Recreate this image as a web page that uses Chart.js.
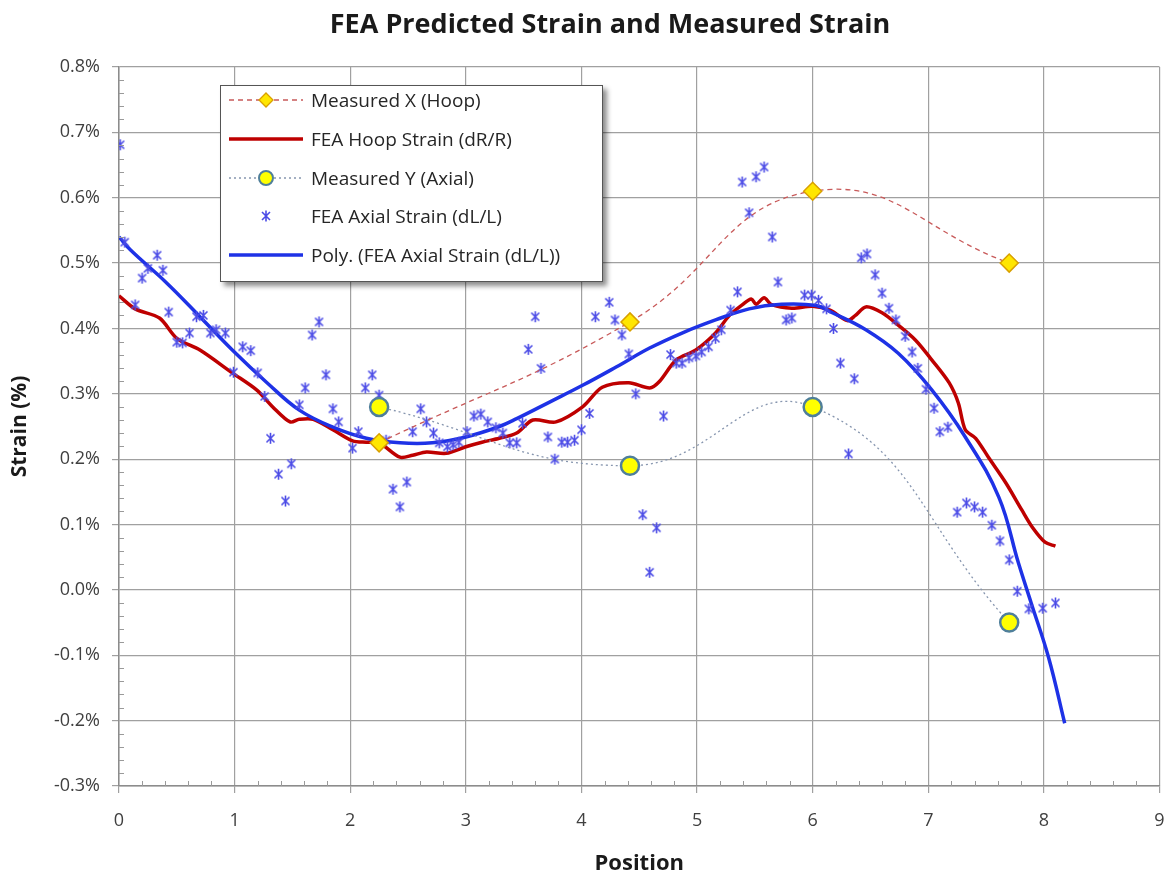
<!DOCTYPE html>
<html lang="en">
    <head>
        <title> FEA Predicted Strain and Measured Strain </title>
        <script src="https://cdn.jsdelivr.net/npm/chart.js@4.4.1/dist/chart.umd.min.js"></script>
        <style>
            body { margin: 0; background: #fff; }
            #wrap { position: relative; width: 1171px; height: 875px; }
            #title {
                position: absolute; left: 0; top: 4px; width: 1220px; text-align: center;
                font-family: "Open Sans", sans-serif; font-size: 27px; font-weight: bold; color: #1a1a1a;
            }
            #legend {
                position: absolute; left: 220px; top: 85px; width: 381px; height: 195px;
                background: #fff; border: 1.5px solid #555;
                box-shadow: 4px 4px 5px rgba(0,0,0,0.45);
                font-family: "Open Sans", sans-serif; font-size: 19px; color: #262626;
            }
            .row { position: absolute; left: 0; height: 30px; display: flex; align-items: center; white-space: nowrap; }
            .row svg { margin-left: 6px; margin-right: 6px; }
        </style>
    </head>
    <body>
        <div id="wrap">
            <canvas id="myChart" width="1171" height="875"></canvas>
            <div id="title">FEA Predicted Strain and Measured Strain</div>
            <div id="legend"></div>
        </div>
        <script>

            // measured points
            const measuredPos = [2.25, 4.42, 6.0, 7.7];
            const measuredHoop = [0.225, 0.41, 0.61, 0.5];
            const measuredAxial = [0.28, 0.19, 0.28, -0.05];

            // FEA hoop strain (red line)
            const hoopPos = [0, 0.14, 0.35, 0.5, 0.7, 0.98, 1.19, 1.33, 1.48, 1.56, 1.68, 1.85, 2.02, 2.14, 2.25, 2.43, 2.54, 2.66, 2.83, 3.0,
                3.14, 3.29, 3.44, 3.58, 3.78, 4.01, 4.18, 4.41, 4.59, 4.67, 4.82, 4.99, 5.16, 5.28, 5.39, 5.47, 5.51, 5.58, 5.64, 5.82,
                6.0, 6.15, 6.3, 6.37, 6.46, 6.6, 6.74, 6.89, 7.03, 7.18, 7.26, 7.32, 7.41, 7.52, 7.67, 7.81, 7.9, 8.01, 8.1];
            const hoopStrain = [0.45, 0.43, 0.416, 0.385, 0.367, 0.332, 0.306, 0.28, 0.257, 0.261, 0.261, 0.245, 0.228, 0.226, 0.225, 0.203, 0.206, 0.211, 0.209, 0.219,
                0.226, 0.232, 0.24, 0.26, 0.257, 0.28, 0.31, 0.317, 0.309, 0.318, 0.352, 0.367, 0.393, 0.42, 0.436, 0.445, 0.437, 0.447, 0.437, 0.431,
                0.434, 0.428, 0.412, 0.42, 0.433, 0.424, 0.405, 0.382, 0.352, 0.317, 0.286, 0.245, 0.232, 0.203, 0.164, 0.122, 0.096, 0.073, 0.067];

            // FEA axial strain (scatter)
            const axialPos = [0.01, 0.05, 0.14, 0.2, 0.25, 0.33, 0.38, 0.43, 0.5, 0.55, 0.61, 0.67, 0.73, 0.79, 0.84, 0.92, 0.99, 1.07, 1.14, 1.2,
                1.26, 1.31, 1.38, 1.44, 1.49, 1.56, 1.61, 1.67, 1.73, 1.79, 1.85, 1.9, 2.02, 2.07, 2.13, 2.19, 2.25, 2.31, 2.37, 2.43,
                2.49, 2.54, 2.61, 2.66, 2.72, 2.77, 2.84, 2.89, 2.94, 3.01, 3.07, 3.13, 3.19, 3.26, 3.32, 3.38, 3.44, 3.49, 3.54, 3.6,
                3.65, 3.71, 3.77, 3.83, 3.88, 3.94, 4.0, 4.07, 4.12, 4.24, 4.29, 4.35, 4.41, 4.47, 4.53, 4.59, 4.65, 4.71, 4.77, 4.82,
                4.87, 4.93, 4.99, 5.04, 5.1, 5.16, 5.21, 5.29, 5.35, 5.39, 5.45, 5.51, 5.58, 5.65, 5.7, 5.77, 5.82, 5.93, 5.99, 6.05,
                6.12, 6.18, 6.24, 6.31, 6.36, 6.42, 6.47, 6.54, 6.6, 6.66, 6.72, 6.8, 6.86, 6.91, 6.98, 7.05, 7.1, 7.17, 7.25, 7.33,
                7.4, 7.47, 7.55, 7.62, 7.7, 7.77, 7.87, 7.99, 8.1];
            const axialStrain = [0.681, 0.532, 0.436, 0.477, 0.492, 0.512, 0.489, 0.425, 0.379, 0.378, 0.393, 0.418, 0.42, 0.393, 0.398, 0.393, 0.333, 0.372, 0.366, 0.332,
                0.296, 0.232, 0.177, 0.136, 0.193, 0.283, 0.309, 0.39, 0.41, 0.329, 0.277, 0.257, 0.217, 0.242, 0.309, 0.329, 0.298, 0.229, 0.154, 0.127,
                0.165, 0.242, 0.277, 0.257, 0.24, 0.225, 0.219, 0.222, 0.226, 0.242, 0.266, 0.269, 0.257, 0.248, 0.24, 0.225, 0.225, 0.255, 0.368, 0.418,
                0.339, 0.234, 0.2, 0.226, 0.226, 0.229, 0.245, 0.27, 0.418, 0.44, 0.413, 0.39, 0.361, 0.3, 0.115, 0.027, 0.095, 0.266, 0.36, 0.347,
                0.347, 0.355, 0.358, 0.364, 0.372, 0.385, 0.398, 0.428, 0.456, 0.624, 0.577, 0.632, 0.647, 0.54, 0.471, 0.413, 0.416, 0.451, 0.451, 0.443,
                0.43, 0.4, 0.347, 0.208, 0.323, 0.508, 0.514, 0.482, 0.454, 0.431, 0.413, 0.388, 0.364, 0.339, 0.307, 0.278, 0.242, 0.249, 0.119, 0.133,
                0.127, 0.119, 0.099, 0.075, 0.046, -0.002, -0.029, -0.028, -0.02];

            // polynomial trend of the axial strain (blue line)
            const polyPos = [0, 0.1, 0.41, 0.7, 0.98, 1.28, 1.56, 1.85, 2.14, 2.43, 2.71, 3.0, 3.29, 3.44, 3.72, 4.01, 4.3, 4.59, 4.87, 5.16,
                5.45, 5.73, 6.03, 6.17, 6.46, 6.74, 7.03, 7.32, 7.61, 7.78, 7.89, 8.04, 8.18];
            const polyStrain = [0.54, 0.52, 0.47, 0.418, 0.367, 0.317, 0.275, 0.249, 0.232, 0.225, 0.225, 0.234, 0.25, 0.262, 0.287, 0.313, 0.341, 0.37, 0.393, 0.413,
                0.43, 0.437, 0.435, 0.424, 0.398, 0.362, 0.306, 0.234, 0.142, 0.041, -0.02, -0.103, -0.204];

            const xTicks = [0, 1, 2, 3, 4, 5, 6, 7, 8, 9];
            const yTicks = [-0.3, -0.2, -0.1, 0.0, 0.1, 0.2, 0.3, 0.4, 0.5, 0.6, 0.7, 0.8];

            const toPoints = (xs, ys) => xs.map((x, i) => ({ x: x, y: ys[i] }));

            // star marker like the spreadsheet one
            const star = document.createElement('canvas');
            star.width = 13; star.height = 13;
            const sc = star.getContext('2d');
            sc.strokeStyle = 'rgb(75,75,230)';
            sc.lineWidth = 1.6;
            sc.beginPath();
            sc.moveTo(2.5, 2.5); sc.lineTo(10.5, 10.5);
            sc.moveTo(10.5, 2.5); sc.lineTo(2.5, 10.5);
            sc.moveTo(6.5, 1); sc.lineTo(6.5, 12);
            sc.stroke();

            const FONT = '"Open Sans", sans-serif';

            const minorTicks = {
                id: 'minorTicks',
                afterDraw (chart) {
                    const ctx = chart.ctx;
                    const xs = chart.scales.x, ys = chart.scales.y;
                    ctx.save();
                    ctx.strokeStyle = '#9a9a9a';
                    ctx.lineWidth = 1;
                    ctx.beginPath();
                    for (let i = 0; i < xTicks.length - 1; i++) {
                        for (let k = 1; k < 5; k++) {
                            const px = Math.round(xs.getPixelForValue(xTicks[i] + k * 0.2)) + 0.5;
                            ctx.moveTo(px, ys.bottom);
                            ctx.lineTo(px, ys.bottom - 5);
                        }
                    }
                    for (let i = 0; i < yTicks.length - 1; i++) {
                        for (let k = 1; k < 5; k++) {
                            const py = Math.round(ys.getPixelForValue(yTicks[i] + k * 0.02)) + 0.5;
                            ctx.moveTo(xs.left, py);
                            ctx.lineTo(xs.left + 5, py);
                        }
                    }
                    ctx.stroke();
                    ctx.restore();
                }
            };

            const datasets = [
                {
                    label: 'Measured X (Hoop)',
                    data: toPoints(measuredPos, measuredHoop),
                    showLine: true, tension: 0.45,
                    borderColor: 'rgb(200,90,90)', borderWidth: 1.3, borderDash: [5, 4],
                    pointStyle: 'rectRot', pointRadius: 9, pointBorderWidth: 1.5,
                    pointBackgroundColor: '#FFE600', pointBorderColor: '#D9A000',
                    order: 1
                },
                {
                    label: 'FEA Hoop Strain (dR/R)',
                    data: toPoints(hoopPos, hoopStrain),
                    showLine: true, tension: 0.3,
                    borderColor: 'rgb(190,0,0)', borderWidth: 3.5,
                    pointRadius: 0,
                    order: 5
                },
                {
                    label: 'Measured Y (Axial)',
                    data: toPoints(measuredPos, measuredAxial),
                    showLine: true, tension: 0.45,
                    borderColor: 'rgb(135,150,175)', borderWidth: 1.3, borderDash: [2, 3],
                    pointStyle: 'circle', pointRadius: 9, pointBorderWidth: 2.5,
                    pointBackgroundColor: '#FFFF00', pointBorderColor: '#4F7F9A',
                    order: 2
                },
                {
                    label: 'FEA Axial Strain (dL/L)',
                    data: toPoints(axialPos, axialStrain),
                    showLine: false,
                    pointStyle: star, pointRadius: 6,
                    order: 3
                },
                {
                    label: 'Poly. (FEA Axial Strain (dL/L))',
                    data: toPoints(polyPos, polyStrain),
                    showLine: true, tension: 0.4,
                    borderColor: 'rgb(30,50,230)', borderWidth: 3.5,
                    pointRadius: 0,
                    order: 4
                }
            ];

            const chartContext = document.getElementById('myChart').getContext('2d');
            const strainChart = new Chart(chartContext, {
                type: 'scatter',
                data: { datasets: datasets },
                options: {
                    responsive: false,
                    animation: false,
                    layout: { padding: { top: 67, left: 0, right: 10, bottom: 0 } },
                    plugins: {
                        legend: { display: false },
                        tooltip: { enabled: false },
                        title: { display: false }
                    },
                    scales: {
                        x: {
                            type: 'linear', min: 0, max: 9,
                            afterFit: (scale) => { scale.height = 89; scale.paddingLeft = 0; scale.paddingRight = 0; },
                            afterBuildTicks: (scale) => { scale.ticks = xTicks.map(v => ({ value: v })); },
                            ticks: { color: '#404040', padding: 17, font: { family: FONT, size: 18 } },
                            grid: { color: '#a0a0a0', lineWidth: 1.2, tickLength: 7 },
                            border: { color: '#8c8c8c', width: 1.5 },
                            title: {
                                display: true, text: 'Position', color: '#1a1a1a',
                                font: { family: FONT, size: 22, weight: 'bold' },
                                padding: { top: 0, bottom: -2 }
                            }
                        },
                        y: {
                            type: 'linear', min: -0.3, max: 0.8,
                            afterFit: (scale) => { scale.width = 119; scale.paddingTop = 0; scale.paddingBottom = 0; },
                            afterBuildTicks: (scale) => { scale.ticks = yTicks.map(v => ({ value: v })); },
                            ticks: {
                                color: '#404040', padding: 12, font: { family: FONT, size: 18 },
                                callback: (v) => v.toFixed(1) + '%'
                            },
                            grid: { color: '#a0a0a0', lineWidth: 1.2, tickLength: 7 },
                            border: { color: '#8c8c8c', width: 1.5 },
                            title: {
                                display: true, text: 'Strain (%)', color: '#1a1a1a',
                                font: { family: FONT, size: 21, weight: 'bold' },
                                padding: { top: 7, bottom: 0 }
                            }
                        }
                    }
                },
                plugins: [minorTicks]
            });

            // legend box drawn as html so the text stays real text
            const legendIcons = [
                '<line x1="2" y1="15" x2="76" y2="15" stroke="rgb(200,90,90)" stroke-width="1.3" stroke-dasharray="5 4"/>'
                    + '<polygon points="39,8 46,15 39,22 32,15" fill="#FFE600" stroke="#D9A000" stroke-width="1.3"/>',
                '<line x1="2" y1="15" x2="76" y2="15" stroke="rgb(190,0,0)" stroke-width="3.5"/>',
                '<line x1="2" y1="15" x2="76" y2="15" stroke="rgb(135,150,175)" stroke-width="1.3" stroke-dasharray="2 3"/>'
                    + '<circle cx="39" cy="15" r="7" fill="#FFFF00" stroke="#4F7F9A" stroke-width="2"/>',
                '<path d="M35 11 L43 19 M43 11 L35 19 M39 9.5 L39 20.5" stroke="rgb(75,75,230)" stroke-width="1.6"/>',
                '<line x1="2" y1="15" x2="76" y2="15" stroke="rgb(30,50,230)" stroke-width="3.5"/>'
            ];
            const legendEl = document.getElementById('legend');
            datasets.forEach((ds, i) => {
                const row = document.createElement('div');
                row.className = 'row';
                row.style.top = (-1 + i * 38.8) + 'px';
                row.innerHTML = '<svg width="78" height="30">' + legendIcons[i] + '</svg><span>' + ds.label + '</span>';
                legendEl.appendChild(row);
            });

        </script>
    </body>
</html>
